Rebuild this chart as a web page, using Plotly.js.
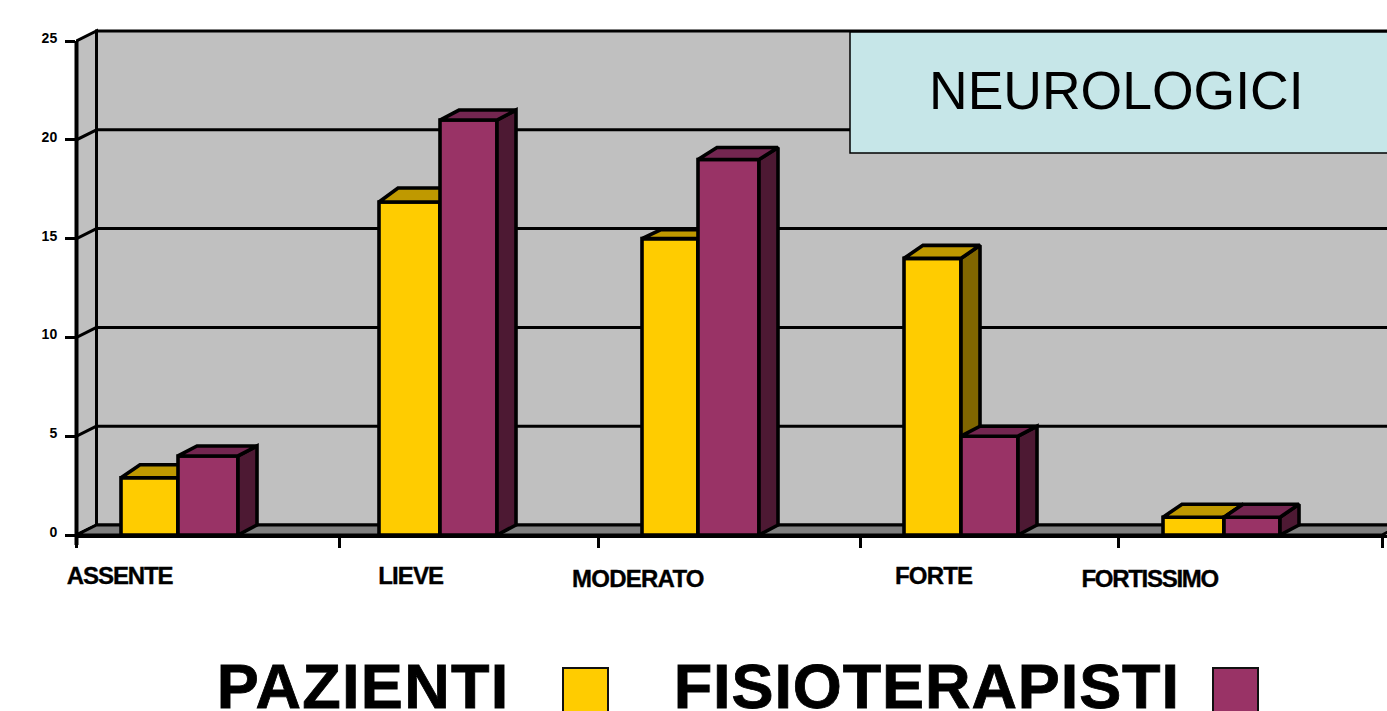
<!DOCTYPE html>
<html>
<head>
<meta charset="utf-8">
<script src="https://cdn.plot.ly/plotly-3.0.1.min.js"></script>
<style>
  html, body { margin: 0; padding: 0; background: #fff; overflow: hidden; }
  #chart { width: 1387px; height: 711px; }
  .annotation[data-index="0"] text { letter-spacing: -1.1px; stroke: #000; stroke-width: 0.35px; }
  .annotation[data-index="1"] text { letter-spacing: -0.9px; stroke: #000; stroke-width: 0.35px; }
  .annotation[data-index="2"] text { letter-spacing: -0.75px; stroke: #000; stroke-width: 0.35px; }
  .annotation[data-index="3"] text { letter-spacing: -0.8px; stroke: #000; stroke-width: 0.35px; }
  .annotation[data-index="4"] text { letter-spacing: -1.3px; stroke: #000; stroke-width: 0.35px; }
  .annotation[data-index="6"] text { letter-spacing: 1.3px; stroke: #000; stroke-width: 0.8px; }
  .annotation[data-index="7"] text { letter-spacing: 0.9px; stroke: #000; stroke-width: 0.8px; }
</style>
</head>
<body>
<div id="chart"></div>
<script>
// Severity classes and the two groups of respondents
const categories = ['ASSENTE', 'LIEVE', 'MODERATO', 'FORTE', 'FORTISSIMO'];
const pazienti = [2.9, 16.85, 15, 14, 0.9];
const fisioterapisti = [4, 21, 19, 5, 0.9];
const yTicks = [0, 5, 10, 15, 20, 25];
const chartTitle = 'NEUROLOGICI';
const seriesNames = ['PAZIENTI', 'FISIOTERAPISTI'];

// Plot frame in pixels
const W = 1387, H = 711;
const LEFT = 76, BASE = 535, TOP = 28;
const SLOT = 261;                 // pixels per category
const FIRST_GROUP = 179;          // pixel centre of the first bar pair
const UNIT = 19.76;               // pixels per value unit
const toCat = p => (p - FIRST_GROUP) / SLOT;

// Pixel layout of the bar pairs and the slot ticks
const pairLeft = [121, 379, 642, 904, 1163];
const pairSeam = [178, 440, 698, 961, 1224];
const pairRight = [238, 497, 759, 1018, 1280];
const slotPixels = [76.5, 339, 598, 860, 1118, 1382];

// Oblique projection used for the pseudo-3D look
const WALL_DX = 20 / SLOT, WALL_DY = 10 / UNIT;
const BAR_DX = 19 / SLOT, BAR_DY = 10 / UNIT;
const lidDepthA = [13, 14, 9, 13, 13];   // depth of the top faces, first series
const lidDepthB = [10, 10, 12, 10, 13];  // depth of the top faces, second series

const xRange = [toCat(LEFT), toCat(W)];
const yRange = [0, (BASE - TOP) / UNIT];
const slotTicks = slotPixels.map(toCat);
const x0 = slotTicks[0];

const px = p => (p - LEFT) / (W - LEFT);
const py = p => (BASE - p) / (BASE - TOP);

const INK = '#000000';
const EDGE = 3.6;
const COL = {
  wall: '#c0c0c0', floor: '#808080', box: '#c6e6e8',
  yellow: '#ffcc00', yellowTop: '#bf9900', yellowSide: '#806600',
  plum: '#993366', plumTop: '#732650', plumSide: '#4d1933'
};

// Top and side faces of every bar in a series, as closed polygons
function faceTraces(values, lefts, rights, lidDepth, topColor, sideColor, xa, ya) {
  const tx = [], ty = [], sx = [], sy = [];
  values.forEach((v, i) => {
    const a = toCat(lefts[i]), b = toCat(rights[i]), lid = lidDepth[i] / UNIT;
    tx.push(a, a + BAR_DX, b + BAR_DX, b, a, null);
    ty.push(v, v + lid, v + lid, v, v, null);
    sx.push(b, b + BAR_DX, b + BAR_DX, b, b, null);
    sy.push(0, BAR_DY, v + lid, v, 0, null);
  });
  const base = { type: 'scatter', mode: 'lines', fill: 'toself', xaxis: xa, yaxis: ya,
    cliponaxis: false, showlegend: false, hoverinfo: 'skip', line: { color: INK, width: EDGE } };
  return [
    Object.assign({}, base, { x: sx, y: sy, fillcolor: sideColor }),
    Object.assign({}, base, { x: tx, y: ty, fillcolor: topColor })
  ];
}

function barTrace(name, values, lefts, rights, color, xa, ya) {
  return { type: 'bar', name, x: categories.map((_, i) => i), y: values,
    offset: lefts.map((l, i) => toCat(l) - i),
    width: lefts.map((l, i) => (rights[i] - l) / SLOT),
    xaxis: xa, yaxis: ya, cliponaxis: false, showlegend: false, hoverinfo: 'skip',
    marker: { color, line: { color: INK, width: EDGE } } };
}

const yMax = yTicks[yTicks.length - 1];

// The second series sits on an overlaid axis pair so it paints over the first
const traces = [
  barTrace(seriesNames[0], pazienti, pairLeft, pairSeam, COL.yellow, 'x', 'y'),
  ...faceTraces(pazienti, pairLeft, pairSeam, lidDepthA, COL.yellowTop, COL.yellowSide, 'x', 'y'),
  barTrace(seriesNames[1], fisioterapisti, pairSeam, pairRight, COL.plum, 'x2', 'y2'),
  ...faceTraces(fisioterapisti, pairSeam, pairRight, lidDepthB, COL.plumTop, COL.plumSide, 'x2', 'y2')
];

const poly = pts => 'M' + pts.map(p => p.join(',')).join('L') + 'Z';
const xLast = slotTicks[slotTicks.length - 1];
const xFar = xLast + WALL_DX;

const shapes = [
  // back wall
  { type: 'path', xref: 'x', yref: 'y', layer: 'below', fillcolor: COL.wall,
    line: { color: INK, width: 3 },
    path: poly([[x0 + WALL_DX, WALL_DY], [x0 + WALL_DX, yMax + WALL_DY], [xFar, yMax + WALL_DY], [xFar, WALL_DY]]) },
  // side wall
  { type: 'path', xref: 'x', yref: 'y', layer: 'below', fillcolor: COL.wall,
    line: { color: INK, width: 3 },
    path: poly([[x0, 0], [x0, yMax], [x0 + WALL_DX, yMax + WALL_DY], [x0 + WALL_DX, WALL_DY]]) },
  // floor
  { type: 'path', xref: 'x', yref: 'y', layer: 'below', fillcolor: COL.floor,
    line: { color: INK, width: 3 },
    path: poly([[x0, 0], [x0 + WALL_DX, WALL_DY], [xFar, WALL_DY], [xLast, 0]]) }
];

// Gridlines run along the back wall and turn down the side wall to the axis
yTicks.slice(1, -1).forEach(v => {
  shapes.push({ type: 'line', xref: 'x', yref: 'y', layer: 'below',
    x0: x0, y0: v, x1: x0 + WALL_DX, y1: v + WALL_DY, line: { color: INK, width: 3 } });
  shapes.push({ type: 'line', xref: 'x', yref: 'y', layer: 'below',
    x0: x0 + WALL_DX, y0: v + WALL_DY, x1: xFar, y1: v + WALL_DY, line: { color: INK, width: 3 } });
});

// Front vertical axis, in paper space so its full stroke shows at the plot edge
shapes.push({ type: 'line', xref: 'paper', yref: 'paper', layer: 'above',
  x0: px(slotPixels[0]), x1: px(slotPixels[0]), y0: py(BASE + 10), y1: py(BASE - yMax * UNIT),
  line: { color: INK, width: 4 } });

// Title box and legend swatches
const boxLeft = 850, boxTop = 32, boxBottom = 153;
shapes.push({ type: 'rect', xref: 'paper', yref: 'paper', layer: 'above',
  x0: px(boxLeft), x1: px(W + 10), y0: py(boxBottom), y1: py(boxTop),
  fillcolor: COL.box, line: { color: INK, width: 1.5 } });
[[563, COL.yellow], [1213, COL.plum]].forEach(([l, c]) => {
  shapes.push({ type: 'rect', xref: 'paper', yref: 'paper', layer: 'above',
    x0: px(l), x1: px(l + 45), y0: py(H + 10), y1: py(668),
    fillcolor: c, line: { color: '#111111', width: 2 } });
});

const FONT = '"Liberation Sans", Arial, sans-serif';
const labelCentre = [119.5, 410.5, 638, 933.5, 1149];
const labelMid = [575, 575, 578, 575, 578];

const annotations = categories.map((c, i) => ({
  text: '<b>' + c + '</b>', xref: 'paper', yref: 'paper', x: px(labelCentre[i]), y: py(labelMid[i]),
  xanchor: 'center', yanchor: 'middle', showarrow: false,
  font: { family: FONT, size: 24, color: INK }
}));
annotations.push({
  text: chartTitle, xref: 'paper', yref: 'paper', x: px(1116.5), y: py(91),
  xanchor: 'center', yanchor: 'middle', showarrow: false,
  font: { family: FONT, size: 53.5, color: INK }
});
[[seriesNames[0], 363], [seriesNames[1], 926.5]].forEach(([t, c]) => {
  annotations.push({
    text: '<b>' + t + '</b>', xref: 'paper', yref: 'paper', x: px(c), y: py(686),
    xanchor: 'center', yanchor: 'middle', showarrow: false,
    font: { family: FONT, size: 63, color: INK }
  });
});

const layout = {
  width: W, height: H,
  margin: { l: LEFT, r: 0, t: TOP, b: H - BASE, pad: 0 },
  paper_bgcolor: '#ffffff', plot_bgcolor: '#ffffff',
  showlegend: false, hovermode: false, barmode: 'overlay',
  xaxis: { type: 'linear', range: xRange, tickmode: 'array', tickvals: slotTicks, ticktext: slotTicks.map(() => ''),
    ticks: 'outside', ticklen: 10, tickwidth: 3, tickcolor: INK, showgrid: false, zeroline: false,
    showline: true, linecolor: INK, linewidth: 3, showticklabels: false },
  yaxis: { range: yRange, tickmode: 'array', tickvals: yTicks, ticktext: yTicks.map(String),
    ticks: 'outside', ticklen: 10, tickwidth: 3, tickcolor: INK, showgrid: false, zeroline: false,
    showline: false, ticklabelstandoff: 5, ticklabelshift: -3,
    tickfont: { family: FONT, size: 14, color: INK, weight: 700 } },
  xaxis2: { type: 'linear', range: xRange, overlaying: 'x', visible: false },
  yaxis2: { range: yRange, overlaying: 'y', visible: false },
  shapes, annotations
};

Plotly.newPlot('chart', traces, layout, { staticPlot: true, displayModeBar: false });
</script>
</body>
</html>
